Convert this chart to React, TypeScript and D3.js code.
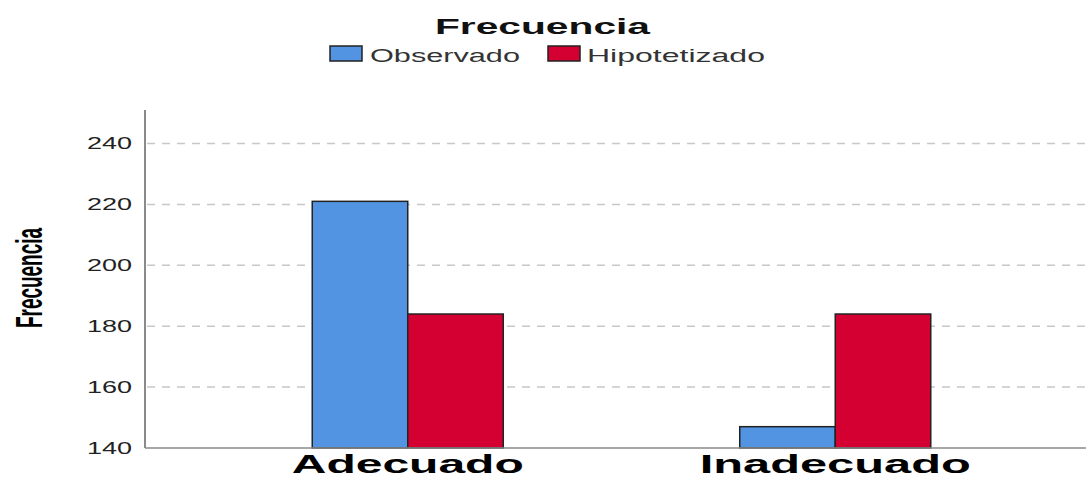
import React, { useRef, useEffect } from "react";
import * as d3 from "d3";

// chart data
const categories = ["Adecuado", "Inadecuado"];
const seriesNames = ["Observado", "Hipotetizado"];
const observado = [221, 147];
const hipotetizado = [184, 184];
const yTicks = [140, 160, 180, 200, 220, 240];

const colors = ["#5294e2", "#d50032"];

const App = () => {
  const svgRef = useRef<SVGSVGElement>(null);

  useEffect(() => {
    const svg = d3.select(svgRef.current);
    svg.selectAll("*").remove();

    const width = 1086;
    const height = 479;
    const left = 145;
    const right = 1086;
    const top = 110;
    const bottom = 448;

    svg.attr("width", width).attr("height", height);

    const data = categories.map((c, i) => ({
      cat: c,
      values: [observado[i], hipotetizado[i]],
    }));

    const y = d3.scaleLinear().domain([140, 251]).range([bottom, top]);

    const x0 = d3
      .scaleBand()
      .domain(categories)
      .range([194, 1049])
      .paddingInner(0);

    const x1 = d3
      .scaleBand()
      .domain(seriesNames)
      .range([0, x0.bandwidth()])
      .paddingInner(0)
      .paddingOuter(1.238);

    const font = "'Liberation Sans', Arial, sans-serif";

    // gridlines
    svg
      .append("g")
      .selectAll("line")
      .data(yTicks.slice(1))
      .enter()
      .append("line")
      .attr("x1", left + 2)
      .attr("x2", right)
      .attr("y1", (d) => y(d))
      .attr("y2", (d) => y(d))
      .attr("stroke", "#c8c8c8")
      .attr("stroke-width", 1.5)
      .attr("stroke-dasharray", "8,7");

    // tick labels
    svg
      .append("g")
      .selectAll("text")
      .data(yTicks)
      .enter()
      .append("text")
      .attr("x", 87)
      .attr("y", (d) => y(d) + 6)
      .attr("font-family", font)
      .attr("font-size", 16)
      .attr("fill", "#222")
      .attr("textLength", 45)
      .attr("lengthAdjust", "spacingAndGlyphs")
      .text((d) => d);

    // bars
    const groups = svg
      .append("g")
      .selectAll("g")
      .data(data)
      .enter()
      .append("g")
      .attr("transform", (d) => `translate(${x0(d.cat)},0)`);

    groups
      .selectAll("rect")
      .data((d) => d.values.map((v, i) => ({ key: seriesNames[i], value: v, i })))
      .enter()
      .append("rect")
      .attr("x", (d) => x1(d.key)!)
      .attr("y", (d) => y(d.value))
      .attr("width", x1.bandwidth())
      .attr("height", (d) => y(140) - y(d.value))
      .attr("fill", (d) => colors[d.i])
      .attr("stroke", "#222")
      .attr("stroke-width", 1.5);

    // axes lines
    svg
      .append("line")
      .attr("x1", left)
      .attr("x2", left)
      .attr("y1", top)
      .attr("y2", bottom)
      .attr("stroke", "#8a8a8a")
      .attr("stroke-width", 2);
    svg
      .append("line")
      .attr("x1", left)
      .attr("x2", right)
      .attr("y1", bottom)
      .attr("y2", bottom)
      .attr("stroke", "#8a8a8a")
      .attr("stroke-width", 1.5);

    // category labels
    const labelWidths = [232, 271];
    svg
      .append("g")
      .selectAll("text")
      .data(categories)
      .enter()
      .append("text")
      .attr("x", (d, i) => x0(d)! + x0.bandwidth() / 2 - labelWidths[i] / 2)
      .attr("y", 473)
      .attr("font-family", font)
      .attr("font-weight", "bold")
      .attr("font-size", 25)
      .attr("fill", "#000")
      .attr("textLength", (d, i) => labelWidths[i])
      .attr("lengthAdjust", "spacingAndGlyphs")
      .text((d) => d);

    // y axis title
    svg
      .append("text")
      .attr("transform", "translate(42,328) rotate(-90)")
      .attr("font-family", font)
      .attr("font-weight", "bold")
      .attr("font-size", 36)
      .attr("fill", "#000")
      .attr("textLength", 100)
      .attr("lengthAdjust", "spacingAndGlyphs")
      .text("Frecuencia");

    // legend title
    svg
      .append("text")
      .attr("x", 435)
      .attr("y", 34)
      .attr("font-family", font)
      .attr("font-weight", "bold")
      .attr("font-size", 22)
      .attr("fill", "#111")
      .attr("textLength", 215)
      .attr("lengthAdjust", "spacingAndGlyphs")
      .text("Frecuencia");

    // legend
    const legendItems = [
      { name: seriesNames[0], sx: 330, tx: 370, tw: 150 },
      { name: seriesNames[1], sx: 548, tx: 587, tw: 178 },
    ];
    const legend = svg
      .append("g")
      .selectAll("g")
      .data(legendItems)
      .enter()
      .append("g");

    legend
      .append("rect")
      .attr("x", (d) => d.sx)
      .attr("y", 46)
      .attr("width", 32)
      .attr("height", 15)
      .attr("fill", (d, i) => colors[i])
      .attr("stroke", "#222")
      .attr("stroke-width", 1.5);

    legend
      .append("text")
      .attr("x", (d) => d.tx)
      .attr("y", 62)
      .attr("font-family", font)
      .attr("font-size", 18)
      .attr("fill", "#333")
      .attr("textLength", (d) => d.tw)
      .attr("lengthAdjust", "spacingAndGlyphs")
      .text((d) => d.name);
  }, []);

  return (
    <svg
      ref={svgRef}
      style={{ position: "absolute", left: 0, top: 0, background: "#fff" }}
    ></svg>
  );
};

export default App;
